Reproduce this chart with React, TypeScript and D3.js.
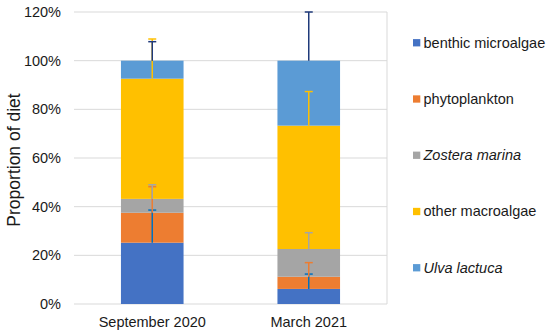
import React, { useEffect, useRef } from "react";
import * as d3 from "d3";

const CATEGORIES = ["September 2020", "March 2021"];
const SERIES = ["benthic microalgae", "phytoplankton", "Zostera marina", "other macroalgae", "Ulva lactuca"];
const ITALIC = [false, false, true, false, true];
const FILL = ["#4472c4", "#ed7d31", "#a5a5a5", "#ffc000", "#5b9bd5"];
const ERR_COLOR = ["#0070c0", "#ed7d31", "#a5a5a5", "#ffc000", "#1f3a7a"];

// proportion per series, one value per category
const VALUES = [
  [0.252, 0.062],
  [0.123, 0.050],
  [0.057, 0.114],
  [0.494, 0.507],
  [0.074, 0.267],
];
// upper error (added on top of each segment)
const ERRORS = [
  [0.134, 0.061],
  [0.107, 0.058],
  [0.058, 0.067],
  [0.163, 0.140],
  [0.078, 0.200],
];
const Y_TICKS = [0, 0.2, 0.4, 0.6, 0.8, 1.0, 1.2];

const FONT = "'Liberation Sans', Arial, sans-serif";

export default function App() {
  const ref = useRef<SVGSVGElement>(null);

  useEffect(() => {
    const svg = d3.select(ref.current);
    svg.selectAll("*").remove();

    const L = 74, R = 387, T = 12, B = 304;
    const x = d3.scaleBand().domain(CATEGORIES).range([L, R]);
    const y = d3.scaleLinear().domain([0, 1.2]).range([B, T]);
    const barW = x.bandwidth() * 0.4;

    // gridlines
    svg.append("g").selectAll("line").data(Y_TICKS).enter().append("line")
      .attr("x1", L).attr("x2", R)
      .attr("y1", d => y(d)).attr("y2", d => y(d))
      .attr("stroke", "#d9d9d9").attr("stroke-width", 1);
    svg.append("line").attr("x1", R).attr("x2", R).attr("y1", T).attr("y2", B)
      .attr("stroke", "#d9d9d9").attr("stroke-width", 1);

    // tick labels
    svg.append("g").selectAll("text").data(Y_TICKS).enter().append("text")
      .attr("x", 61).attr("y", d => y(d) + 5)
      .attr("text-anchor", "end").attr("font-family", FONT).attr("font-size", 14.5)
      .attr("fill", "#1a1a1a")
      .text(d => d3.format(".0%")(d));

    // stacking
    const stacked = CATEGORIES.map((_, ci) => {
      let acc = 0;
      return VALUES.map((v, si) => {
        const y0 = acc; acc += v[ci];
        return { ci, si, y0, y1: acc, err: ERRORS[si][ci] };
      });
    }).flat();

    svg.append("g").selectAll("rect").data(stacked).enter().append("rect")
      .attr("x", d => x(CATEGORIES[d.ci])! + (x.bandwidth() - barW) / 2)
      .attr("width", barW)
      .attr("y", d => y(d.y1))
      .attr("height", d => y(d.y0) - y(d.y1))
      .attr("fill", d => FILL[d.si]);

    // error bars
    const eg = svg.append("g");
    stacked.forEach(d => {
      const cx = x(CATEGORIES[d.ci])! + x.bandwidth() / 2;
      const top = Math.min(1.2, d.y1 + d.err);
      eg.append("line").attr("x1", cx).attr("x2", cx)
        .attr("y1", y(d.y1)).attr("y2", y(top))
        .attr("stroke", ERR_COLOR[d.si]).attr("stroke-width", 1.5);
      eg.append("line").attr("x1", cx - 4).attr("x2", cx + 4)
        .attr("y1", y(top)).attr("y2", y(top))
        .attr("stroke", ERR_COLOR[d.si]).attr("stroke-width", 1.5);
    });

    // category labels
    svg.append("g").selectAll("text").data(CATEGORIES).enter().append("text")
      .attr("x", d => x(d)! + x.bandwidth() / 2).attr("y", 327)
      .attr("text-anchor", "middle").attr("font-family", FONT).attr("font-size", 14.5)
      .attr("fill", "#1a1a1a").text(d => d);

    // y title
    svg.append("text")
      .attr("transform", "translate(20,160) rotate(-90)")
      .attr("text-anchor", "middle").attr("font-family", FONT).attr("font-size", 17.5)
      .attr("fill", "#1a1a1a").text("Proportion of diet");

    // legend
    const lg = svg.append("g").selectAll("g").data(SERIES).enter().append("g")
      .attr("transform", (_, i) => `translate(413,${42.7 + i * 56.25})`);
    lg.append("rect").attr("x", 0).attr("y", -3.6).attr("width", 7.3).attr("height", 7.3)
      .attr("fill", (_, i) => FILL[i]);
    lg.append("text").attr("x", 10.5).attr("y", 5)
      .attr("font-family", FONT).attr("font-size", 14.5)
      .attr("font-style", (_, i) => ITALIC[i] ? "italic" : "normal")
      .attr("fill", "#1a1a1a").text(d => d);
  }, []);

  return (
    <svg ref={ref} width={550} height={335}
      style={{ position: "absolute", left: 0, top: 0, background: "#fff" }} />
  );
}
